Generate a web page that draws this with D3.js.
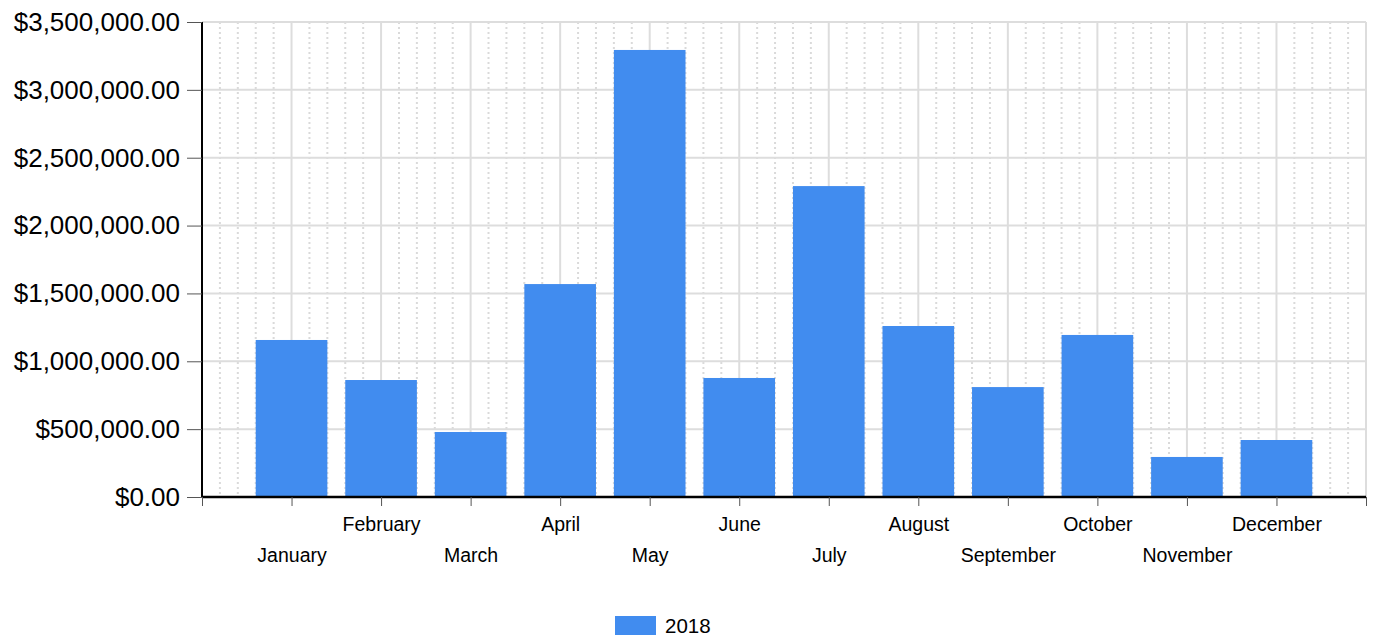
<!DOCTYPE html>
<html>
<head>
<meta charset="utf-8">
<script src="https://cdn.jsdelivr.net/npm/d3@7"></script>
<style>
  html, body { margin: 0; padding: 0; background: #fff; }
  svg { display: block; font-family: "Liberation Sans", Arial, sans-serif; }
</style>
</head>
<body>
<svg id="chart" width="1374" height="639"></svg>
<script>
const months = ["January","February","March","April","May","June","July","August","September","October","November","December"];
const values2018 = [1157000, 862000, 479000, 1569000, 3294000, 877000, 2291000, 1260000, 810000, 1194000, 295000, 420000];
const yTicks = [0, 500000, 1000000, 1500000, 2000000, 2500000, 3000000, 3500000];
const seriesName = "2018";

const svg = d3.select("#chart");
const mLeft = 202, mRight = 1366, mTop = 22, mBottom = 497;
const barColor = "#418cef";

const x = d3.scaleLinear().domain([0, months.length + 1]).range([mLeft, mRight]);
const y = d3.scaleLinear().domain([0, 3500000]).range([mBottom, mTop]);
const step = x(1) - x(0);

const grid = svg.append("g");
// minor dotted vertical lines
const minor = [];
for (let k = 0; k <= months.length; k++) {
  for (let j = 1; j < 5; j++) minor.push(k + j / 5);
}
grid.selectAll("line.minor").data(minor).join("line")
  .attr("x1", d => x(d)).attr("x2", d => x(d))
  .attr("y1", mTop).attr("y2", mBottom)
  .attr("stroke", "#dadada").attr("stroke-width", 2)
  .attr("stroke-dasharray", "2,3");
// major vertical lines
grid.selectAll("line.major").data(d3.range(1, months.length + 2)).join("line")
  .attr("x1", d => x(d)).attr("x2", d => x(d))
  .attr("y1", mTop).attr("y2", mBottom)
  .attr("stroke", "#dddddd").attr("stroke-width", 2);
// horizontal grid
grid.selectAll("line.h").data(yTicks.slice(1)).join("line")
  .attr("x1", mLeft).attr("x2", mRight)
  .attr("y1", d => y(d)).attr("y2", d => y(d))
  .attr("stroke", "#dddddd").attr("stroke-width", 2);

// bars
const bw = step * 0.8;
svg.append("g").selectAll("rect").data(values2018).join("rect")
  .attr("x", (d, i) => x(i + 1) - bw / 2)
  .attr("width", bw)
  .attr("y", d => y(d))
  .attr("height", d => y(0) - y(d))
  .attr("fill", barColor);

// y axis
const yAxis = svg.append("g").attr("transform", `translate(${mLeft},0)`)
  .call(d3.axisLeft(y).tickValues(yTicks).tickFormat(d3.format("$,.2f")).tickSize(15).tickPadding(7));
yAxis.select(".domain").attr("stroke", "#000").attr("stroke-width", 2).attr("d", `M0,${mTop}V${mBottom}`);
yAxis.selectAll(".tick line").attr("stroke", "#555").attr("stroke-width", 1);
yAxis.selectAll(".tick text").attr("font-size", 26).attr("fill", "#000")
  .attr("font-family", "Liberation Sans, Arial, sans-serif");

// x axis
const xAxis = svg.append("g").attr("transform", `translate(0,${mBottom})`)
  .call(d3.axisBottom(x).tickValues(d3.range(0, months.length + 2))
    .tickFormat(d => (d >= 1 && d <= months.length) ? months[d - 1] : "")
    .tickSize(9).tickPadding(0));
xAxis.select(".domain").attr("stroke", "#000").attr("stroke-width", 2.5).attr("d", `M${mLeft},0H${mRight}`);
xAxis.selectAll(".tick line").attr("stroke", "#555").attr("stroke-width", 1);
xAxis.selectAll(".tick text")
  .attr("font-size", 19.5).attr("fill", "#000")
  .attr("font-family", "Liberation Sans, Arial, sans-serif")
  .attr("dy", null)
  .attr("y", d => (d % 2 === 1) ? 65 : 34);

// legend
const lg = svg.append("g").attr("transform", "translate(615,616)");
lg.append("rect").attr("width", 41).attr("height", 19).attr("fill", barColor);
lg.append("text").attr("x", 50).attr("y", 17).attr("font-size", 20.5).attr("fill", "#000").text(seriesName);
</script>
</body>
</html>
